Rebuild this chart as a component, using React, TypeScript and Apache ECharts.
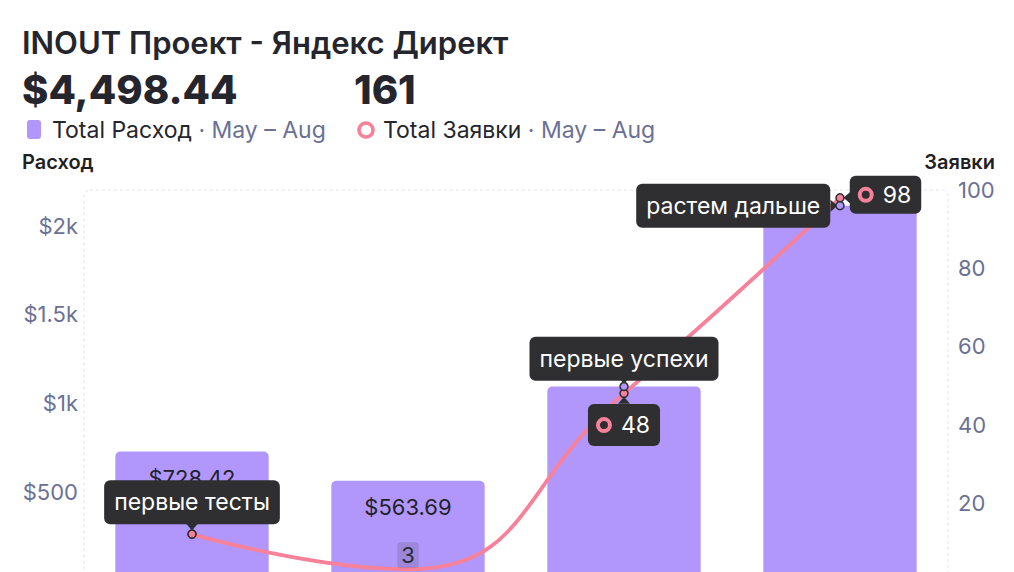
import React, { useEffect, useRef } from "react";
import * as echarts from "echarts";

const categories = ["May", "Jun", "Jul", "Aug"];
const spend = [728.42, 563.69, 1094.51, 2111.82];
const leads = [12, 3, 48, 98];
const notes = ["первые тесты", "первые успехи", "растем дальше"];
const spendTicks = [500, 1000, 1500, 2000];
const title = "INOUT Проект - Яндекс Директ";
const totalSpend = "$4,498.44";
const totalLeads = "161";
const period = "May – Aug";

const PURPLE = "#b197fc";
const PINK = "#f8819a";
const DARK = "#2f2f31";
const MUTED = "#6b7194";
const TEXT = "#25252d";
const FONT = "Inter, 'Noto Sans', sans-serif";

const fmtMoney = (v: number) =>
  "$" + v.toLocaleString("en-US", { minimumFractionDigits: 2, maximumFractionDigits: 2 });
const fmtAxis = (v: number) => (v >= 1000 ? "$" + v / 1000 + "k" : "$" + v);

const boxLabel = {
  show: true,
  color: "#ffffff",
  fontSize: 23,
  fontFamily: FONT,
  backgroundColor: DARK,
  borderRadius: 6,
  padding: [9, 10, 9, 10],
  lineHeight: 26,
};

const arrow = (coord: any[], rotate: number, offset: number[]) => ({
  coord,
  symbol: "triangle",
  symbolSize: [12, 7],
  symbolRotate: rotate,
  symbolOffset: offset,
  itemStyle: { color: DARK },
  label: { show: false },
});

export default function App() {
  const ref = useRef<HTMLDivElement>(null);
  useEffect(() => {
    document.body.style.margin = "0";
    document.body.style.overflow = "hidden";
    const chart = echarts.init(ref.current!, null, { renderer: "svg" });
    const ringRich = {
      r: { width: 12, height: 12, borderRadius: 9, borderWidth: 4, borderColor: PINK },
      v: { color: "#fff", fontSize: 23, fontFamily: FONT, padding: [0, 0, 0, 11] },
    };
    chart.setOption({
      animation: false,
      textStyle: { fontFamily: FONT },
      grid: { left: 84, right: 66, top: 190, bottom: 49 },
      graphic: [
        {
          type: "rect",
          shape: { x: 84, y: 190, width: 864, height: 500, r: 6 },
          style: { fill: "none", stroke: "#e4e4ea", lineWidth: 1, lineDash: [3, 3] },
          silent: true,
          z: 0,
        },
        {
          type: "text",
          x: 22,
          y: 42,
          style: { text: title, fontSize: 31, fontWeight: 600, fill: TEXT, fontFamily: FONT, textVerticalAlign: "middle" },
        },
        {
          type: "text",
          x: 22,
          y: 89,
          style: { text: totalSpend, fontSize: 40, fontWeight: 800, fill: TEXT, fontFamily: FONT, textVerticalAlign: "middle" },
        },
        {
          type: "text",
          x: 354,
          y: 89,
          style: { text: totalLeads, fontSize: 40, fontWeight: 800, fill: TEXT, fontFamily: FONT, textVerticalAlign: "middle" },
        },
        {
          type: "rect",
          shape: { x: 27, y: 120, width: 14, height: 19, r: 3 },
          style: { fill: PURPLE },
        },
        {
          type: "text",
          x: 52,
          y: 130,
          style: {
            text: "{a|Total Расход}{b| · " + period + "}",
            fontFamily: FONT,
            textVerticalAlign: "middle",
            rich: {
              a: { fontSize: 23, fill: TEXT, fontFamily: FONT },
              b: { fontSize: 23, fill: MUTED, fontFamily: FONT },
            },
          },
        },
        {
          type: "circle",
          shape: { cx: 366, cy: 130, r: 7 },
          style: { fill: "none", stroke: PINK, lineWidth: 3.5 },
        },
        {
          type: "text",
          x: 383,
          y: 130,
          style: {
            text: "{a|Total Заявки}{b| · " + period + "}",
            fontFamily: FONT,
            textVerticalAlign: "middle",
            rich: {
              a: { fontSize: 23, fill: TEXT, fontFamily: FONT },
              b: { fontSize: 23, fill: MUTED, fontFamily: FONT },
            },
          },
        },
        {
          type: "text",
          x: 22,
          y: 162,
          style: { text: "Расход", fontSize: 20, fontWeight: 600, fill: "#1f1f25", fontFamily: FONT, textVerticalAlign: "middle" },
        },
        {
          type: "text",
          x: 995,
          y: 162,
          style: {
            text: "Заявки",
            fontSize: 20,
            fontWeight: 600,
            fill: "#1f1f25",
            fontFamily: FONT,
            textVerticalAlign: "middle",
            textAlign: "right",
          },
        },
      ],
      xAxis: {
        type: "category",
        data: categories,
        axisLine: { show: false },
        axisTick: { show: false },
        axisLabel: { show: false },
      },
      yAxis: [
        {
          type: "value",
          min: 0,
          max: 2200,
          interval: 500,
          splitLine: { show: false },
          axisLine: { show: false },
          axisTick: { show: false },
          axisLabel: {
            showMaxLabel: false,
            showMinLabel: false,
            color: MUTED,
            fontSize: 22,
            margin: 6,
            fontFamily: FONT,
            formatter: (v: number) => (spendTicks.includes(v) ? fmtAxis(v) : ""),
          },
        },
        {
          type: "value",
          min: 0,
          max: 100,
          interval: 20,
          position: "right",
          splitLine: { show: false },
          axisLine: { show: false },
          axisTick: { show: false },
          axisLabel: { showMinLabel: false, color: MUTED, fontSize: 22, margin: 10, fontFamily: FONT },
        },
      ],
      series: [
        {
          type: "bar",
          name: "Расход",
          data: spend.map((v, i) => ({
            value: v,
            label: { show: i < 2 },
          })),
          barWidth: "71%",
          itemStyle: { color: PURPLE, borderRadius: [5, 5, 0, 0] },
          label: {
            show: true,
            position: "insideTop",
            distance: 15,
            color: "#222228",
            fontSize: 22,
            fontFamily: FONT,
            formatter: (p: any) => fmtMoney(p.value),
          },
          z: 2,
          markPoint: {
            z: 5,
            data: [
              arrow([categories[2], spend[2]], 180, [0, -6]),
              arrow([categories[3], spend[3]], -90, [-6, 0]),
              {
                coord: [categories[2], spend[2]],
                symbol: "circle",
                symbolSize: 8,
                itemStyle: { color: PURPLE, borderColor: DARK, borderWidth: 1.5 },
                label: { ...boxLabel, position: "top", distance: 1, formatter: notes[1] },
              },
              {
                coord: [categories[3], spend[3]],
                symbol: "circle",
                symbolSize: 8,
                itemStyle: { color: PURPLE, borderColor: DARK, borderWidth: 1.5 },
                label: { ...boxLabel, position: "left", distance: 5, formatter: notes[2] },
              },
            ],
          },
        },
        {
          type: "line",
          name: "Заявки",
          yAxisIndex: 1,
          smooth: 0.5,
          data: leads.map((v, i) => {
            if (i === 1)
              return {
                value: v,
                symbolSize: 0,
                label: {
                  show: true,
                  position: "top",
                  distance: 1,
                  color: "#2a2a33",
                  fontSize: 22,
                  fontFamily: FONT,
                  backgroundColor: "rgba(80,80,100,0.22)",
                  borderRadius: 3,
                  padding: [2, 4, 2, 4],
                },
              };
            if (i === 2)
              return {
                value: v,
                label: {
                  ...boxLabel,
                  position: "bottom",
                  distance: 6,
                  padding: [8, 10, 8, 10],
                  formatter: "{r|}{v|" + v + "}",
                  rich: ringRich,
                },
              };
            if (i === 3)
              return {
                value: v,
                label: {
                  ...boxLabel,
                  position: "right",
                  distance: 5,
                  offset: [0, -3],
                  padding: [6, 10, 6, 10],
                  formatter: "{r|}{v|" + v + "}",
                  rich: ringRich,
                },
              };
            return { value: v };
          }),
          symbol: "circle",
          symbolSize: 8,
          showAllSymbol: true,
          lineStyle: { color: PINK, width: 3.8 },
          itemStyle: { color: PINK, borderColor: DARK, borderWidth: 1.5 },
          z: 3,
          markPoint: {
            z: 5,
            data: [
              arrow([categories[0], leads[0]], 180, [0, -7]),
              arrow([categories[2], leads[2]], 0, [0, 7]),
              arrow([categories[3], leads[3]], 90, [7, 0]),
              {
                coord: [categories[0], leads[0]],
                symbol: "circle",
                symbolSize: 8,
                itemStyle: { color: PINK, borderColor: DARK, borderWidth: 1.5 },
                label: { ...boxLabel, position: "top", distance: 5, formatter: notes[0] },
              },
            ],
          },
        },
      ],
    });
    return () => chart.dispose();
  }, []);
  return (
    <div
      ref={ref}
      style={{ position: "absolute", left: 0, top: 0, width: 1014, height: 630, background: "#fff" }}
    />
  );
}
